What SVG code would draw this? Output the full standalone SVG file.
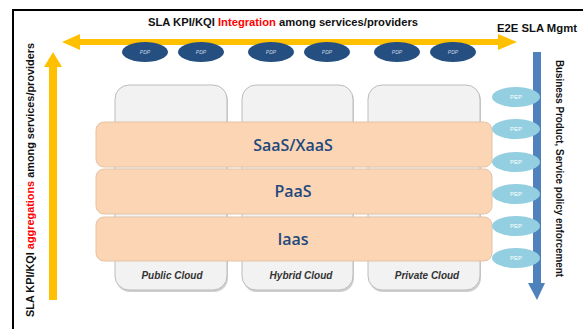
<svg xmlns="http://www.w3.org/2000/svg" width="583" height="329" viewBox="0 0 583 329">
<style>
.frame{stroke:#000;stroke-width:2;fill:none}
.cloud{fill:#f2f2f2;stroke:#bcbcbc;stroke-width:1}
.shadow{fill:#cfcfcf}
.layer{fill:#fcd5b4;stroke:#e3c3a6;stroke-width:1}
.ltxt{font-family:"Open Sans","Liberation Sans",sans-serif;font-weight:600;font-size:16px;fill:#1f497d;text-anchor:middle}
.ctxt{font-family:"Liberation Sans",Arial,sans-serif;font-weight:bold;font-style:italic;font-size:10px;fill:#333;text-anchor:middle}
.pdp{fill:#244f80}
.pdpt{font-family:"Liberation Sans",Arial,sans-serif;font-style:italic;font-size:5px;fill:#c9d6e6;text-anchor:middle}
.pep{fill:#93cfe0}
.pept{font-family:"Liberation Sans",Arial,sans-serif;font-size:6px;fill:#fff;text-anchor:middle}
.lbl{font-family:"Liberation Sans",Arial,sans-serif;font-weight:bold;font-size:10px;fill:#111}
.red{fill:#ff0000}
.yel{fill:#ffc000}
.blu{fill:#4f81bd}
</style>
<rect width="583" height="329" fill="#fff"/>
<path class="frame" d="M13,329 V10 H583"/>

<g id="clouds">
  <g id="public-cloud">
    <rect class="shadow" x="116" y="87" width="112" height="205" rx="14"/>
    <rect class="cloud" x="115" y="85" width="112" height="205" rx="14"/>
    <text class="ctxt" x="172" y="279">Public Cloud</text>
  </g>
  <g id="hybrid-cloud">
    <rect class="shadow" x="243" y="87" width="111" height="205" rx="14"/>
    <rect class="cloud" x="242" y="85" width="111" height="205" rx="14"/>
    <text class="ctxt" x="301" y="279">Hybrid Cloud</text>
  </g>
  <g id="private-cloud">
    <rect class="shadow" x="369" y="87" width="112" height="205" rx="14"/>
    <rect class="cloud" x="368" y="85" width="112" height="205" rx="14"/>
    <text class="ctxt" x="427" y="279">Private Cloud</text>
  </g>
</g>

<g id="layers">
  <g id="saas">
    <rect class="layer" x="96" y="122" width="396" height="45" rx="8"/>
    <text class="ltxt" x="293" y="151">SaaS/XaaS</text>
  </g>
  <g id="paas">
    <rect class="layer" x="96" y="169" width="396" height="45" rx="8"/>
    <text class="ltxt" x="293" y="197">PaaS</text>
  </g>
  <g id="iaas">
    <rect class="layer" x="96" y="217" width="396" height="44" rx="8"/>
    <text class="ltxt" x="293" y="245">Iaas</text>
  </g>
</g>

<g id="connectors">
  <path class="yel" d="M62,42 L80,34 V39 H498 V34 L517,42 L498,50 V45 H80 V50 Z"/>
  <path class="yel" d="M53,52 L62,67 H57 V300 H49 V67 H44 Z"/>
  <path class="blu" d="M533,52 H541 V283 H545 L537,300 L528,283 H533 Z"/>
</g>

<g id="pdps">
  <g id="pdp1"><ellipse class="pdp" cx="145" cy="52" rx="23" ry="10"/><text class="pdpt" x="145" y="54">PDP</text></g>
  <g id="pdp2"><ellipse class="pdp" cx="201" cy="52" rx="23" ry="10"/><text class="pdpt" x="201" y="54">PDP</text></g>
  <g id="pdp3"><ellipse class="pdp" cx="271" cy="52" rx="23" ry="10"/><text class="pdpt" x="271" y="54">PDP</text></g>
  <g id="pdp4"><ellipse class="pdp" cx="327" cy="52" rx="23" ry="10"/><text class="pdpt" x="327" y="54">PDP</text></g>
  <g id="pdp5"><ellipse class="pdp" cx="397" cy="52" rx="23" ry="10"/><text class="pdpt" x="397" y="54">PDP</text></g>
  <g id="pdp6"><ellipse class="pdp" cx="453" cy="52" rx="23" ry="10"/><text class="pdpt" x="453" y="54">PDP</text></g>
</g>

<g id="peps">
  <g id="pep1"><ellipse class="pep" cx="516" cy="97" rx="24" ry="10"/><text class="pept" x="516" y="99">PEP</text></g>
  <g id="pep2"><ellipse class="pep" cx="516" cy="129" rx="24" ry="10"/><text class="pept" x="516" y="131">PEP</text></g>
  <g id="pep3"><ellipse class="pep" cx="516" cy="162" rx="24" ry="10"/><text class="pept" x="516" y="164">PEP</text></g>
  <g id="pep4"><ellipse class="pep" cx="516" cy="194" rx="24" ry="10"/><text class="pept" x="516" y="196">PEP</text></g>
  <g id="pep5"><ellipse class="pep" cx="516" cy="226" rx="24" ry="10"/><text class="pept" x="516" y="228">PEP</text></g>
  <g id="pep6"><ellipse class="pep" cx="516" cy="258" rx="24" ry="10"/><text class="pept" x="516" y="260">PEP</text></g>
</g>

<g id="labels">
  <text class="lbl" x="148" y="26" textLength="270" lengthAdjust="spacingAndGlyphs">SLA  KPI/KQI <tspan class="red">Integration</tspan> among services/providers</text>
  <text class="lbl" x="497" y="32" textLength="80" lengthAdjust="spacingAndGlyphs">E2E SLA Mgmt</text>
  <text class="lbl" transform="translate(34,317) rotate(-90)" x="0" y="0" textLength="274" lengthAdjust="spacingAndGlyphs">SLA  KPI/KQI <tspan class="red">aggregations</tspan> among services/providers</text>
  <text class="lbl" transform="translate(556,60) rotate(90)" x="0" y="0" textLength="217" lengthAdjust="spacingAndGlyphs">Business  Product, Service policy enforcement</text>
</g>
</svg>
